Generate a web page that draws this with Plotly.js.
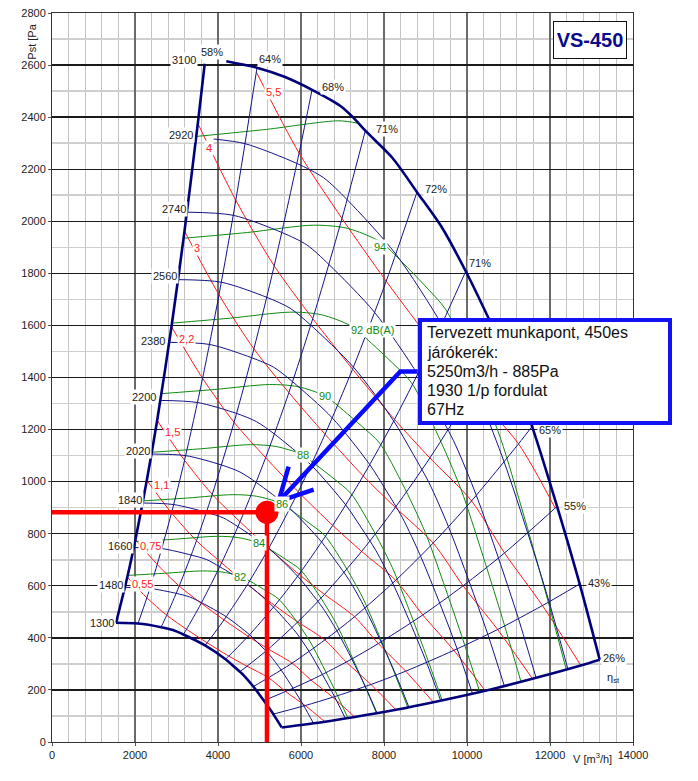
<!DOCTYPE html>
<html><head><meta charset="utf-8">
<script src="https://cdn.plot.ly/plotly-3.0.1.min.js"></script>
<style>html,body{margin:0;padding:0;background:#fff}#chart{width:698px;height:781px}</style>
</head><body><div id="chart"></div>
<script>
// ---------- speed curves (rpm) ----------
const rpm3100V = [4200,4940,5600,6266,6950,7250,7550,8200,8795,9400,9970,10483,11000,11568,12170,12715,13197];
const rpm3100P = [2615,2590,2555,2505,2443,2400,2348,2244,2112,1975,1808,1640,1460,1212,905,607,316];
const rpm2920V = [3895,4653,5902,6546,7112,8284,9391,9874,10361,10896,11463,11977,12431];
const rpm2920P = [2316,2298,2222,2167,2083,1874,1604,1455,1295,1075,803,539,280];
const rpm2740V = [3253,4366,5538,6143,6673,7774,8812,9266,9723,10225,10757,11239,11664];
const rpm2740P = [2035,2023,1957,1909,1834,1650,1412,1281,1141,947,707,474,247];
const rpm2560V = [3039,4080,5175,5739,6235,7263,8233,8657,9084,9553,10050,10500,10898];
const rpm2560P = [1776,1766,1708,1666,1601,1440,1233,1118,996,827,617,414,216];
const rpm2380V = [2825,3793,4811,5336,5796,6752,7654,8048,8445,8881,9343,9762,10132];
const rpm2380P = [1535,1527,1476,1440,1384,1245,1066,967,861,714,533,358,186];
const rpm2200V = [2612,3506,4447,4932,5358,6242,7075,7440,7806,8210,8637,9024,9366];
const rpm2200P = [1312,1304,1262,1230,1183,1064,911,826,735,610,456,306,159];
const rpm2020V = [2398,3219,4083,4529,4920,5731,6497,6831,7168,7538,7930,8286,8599];
const rpm2020P = [1106,1100,1064,1037,997,897,768,696,620,515,384,258,134];
const rpm1840V = [2184,2932,3719,4125,4481,5220,5918,6222,6529,6866,7223,7547,7833];
const rpm1840P = [918,912,882,861,827,744,637,578,514,427,319,214,111];
const rpm1660V = [1971,2645,3355,3722,4043,4710,5339,5613,5890,6194,6517,6809,7067];
const rpm1660P = [747,743,718,701,673,606,518,470,419,348,259,174,91];
const rpm1480V = [1757,2358,2992,3318,3605,4199,4760,5005,5252,5523,5810,6071,6300];
const rpm1480P = [594,590,571,557,535,481,412,374,333,276,206,138,72];
const rpm1300V = [1543,2072,2628,2914,3166,3688,4181,4396,4613,4851,5103,5332,5534];
const rpm1300P = [458,455,441,430,413,371,318,288,257,213,159,107,56];

// ---------- efficiency lines ----------
const eff58V = [1543,1814,2011,2285,2534,2879,3193,3514,3680];
const eff58P = [458,633,778,1005,1235,1595,1962,2376,2605];
const eff64V = [2072,2286,2535,2880,3194,3629,4024,4429,4940];
const eff64P = [455,554,682,880,1082,1397,1718,2081,2590];
const eff68V = [2628,2764,3065,3482,3861,4387,4865,5354,5954,6266];
const eff68P = [441,487,599,773,951,1228,1510,1829,2262,2505];
const eff71aV = [3166,3243,3596,4086,4531,5148,5708,6283,6987,7550];
const eff71aP = [413,433,533,688,846,1092,1342,1626,2011,2348];
const eff72V = [3688,3738,4145,4709,5222,5933,6579,7242,8053,8795];
const eff72P = [371,381,469,605,744,961,1182,1432,1770,2112];
const eff71bV = [4181,4260,4725,5368,5952,6763,7499,8254,9179,9970];
const eff71bP = [318,330,406,524,644,832,1022,1239,1532,1808];
const eff69V = [4526,4699,5212,5921,6566,7460,8272,9105,10125,10791];
const eff69P = [270,291,357,461,567,732,901,1091,1349,1533];
const eff65V = [4851,5217,5786,6574,7290,8282,9184,10109,11241,11568];
const eff65P = [213,247,303,392,481,621,764,926,1145,1212];
const eff55V = [5103,5628,6241,7091,7863,8934,9906,10904,12170];
const eff55P = [159,194,238,307,378,488,600,726,905];
const eff43V = [5332,6100,6765,7685,8522,9683,10737,11818,12715];
const eff43P = [107,140,172,221,272,352,432,524,607];
const eff26V = [5534,6576,7293,8286,9189,10440,11576,12742,13197];
const eff26P = [56,78,96,124,153,197,243,294,316];

// ---------- shaft power lines (kW) ----------
const kw055V = [1814,2286,2764,3243,3738,4260,4699,5217,5628,6100,6576];
const kw055P = [633,554,487,433,381,330,291,247,194,140,78];
const kw075V = [2011,2535,3065,3596,4145,4725,5212,5786,6241,6765,7293];
const kw075P = [778,682,599,533,469,406,357,303,238,172,96];
const kw110V = [2285,2880,3482,4086,4709,5368,5921,6574,7091,7685,8286];
const kw110P = [1005,880,773,688,605,524,461,392,307,221,124];
const kw150V = [2534,3194,3861,4531,5222,5952,6566,7290,7863,8522,9189];
const kw150P = [1235,1082,951,846,744,644,567,481,378,272,153];
const kw220V = [2879,3629,4387,5148,5933,6763,7460,8282,8934,9683,10440];
const kw220P = [1595,1397,1228,1092,961,832,732,621,488,352,197];
const kw300V = [3193,4024,4865,5708,6579,7499,8272,9184,9906,10737,11576];
const kw300P = [1962,1718,1510,1342,1182,1022,901,764,600,432,243];
const kw400V = [3514,4429,5354,6283,7242,8254,9105,10109,10904,11818,12742];
const kw400P = [2376,2081,1829,1626,1432,1239,1091,926,726,524,294];
const kw550V = [4925,5954,6987,8053,9179,10125,11241,12125];
const kw550P = [2573,2262,2011,1770,1532,1349,1145,898];

// ---------- sound level lines dB(A) ----------
const db96V = [3484,5167,6908,7400];
const db96P = [2326,2353,2386,2376];
const db94V = [3177,4712,6301,7119,7910,8438,8965,9492,10152,10811,11338,11866,12393];
const db94P = [1935,1957,1985,1973,1921,1843,1756,1660,1434,1165,887,591,278];
const db92V = [2898,4297,5746,6492,7214,7695,8176,8657,9258,9859,10340,10821,11302];
const db92P = [1609,1628,1651,1641,1597,1532,1460,1381,1193,969,737,492,231];
const db90V = [2643,3919,5240,5921,6579,7018,7456,7895,8443,8991,9430,9869,10307];
const db90P = [1338,1354,1373,1365,1329,1274,1214,1148,992,806,613,409,192];
const db88V = [2410,3574,4779,5400,6000,6400,6800,7200,7700,8200,8600,9000,9400];
const db88P = [1113,1126,1142,1135,1105,1060,1010,955,825,670,510,340,160];
const db86V = [2198,3259,4358,4925,5472,5837,6202,6566,7022,7478,7843,8208,8573];
const db86P = [926,937,950,944,919,882,840,794,686,557,424,283,133];
const db84V = [2004,2973,3975,4491,4990,5323,5656,5988,6404,6820,7153,7486,7818];
const db84P = [770,779,790,785,764,733,699,661,571,463,353,235,111];
const db82V = [1828,2711,3625,4096,4551,4854,5158,5461,5841,6220,6523,6827,7130];
const db82P = [640,648,657,653,636,610,581,549,475,385,293,196,92];

// ---------- operating point & callout arrow ----------
const opV = [5180];
const opP = [882];
const arrowV = [8811,8394,5461,null,5702,5461,6305];
const arrowP = [1423,1423,924,null,1058,924,969];

// ---------- labels ----------
const effLabText = ['58%','64%','68%','71%','72%','71%','65%','55%','43%','26%'];
const effLabV = [3863,5244,6772,8073,9262,10322,12009,12611,13173,13551];
const effLabP = [2652,2624,2515,2355,2124,1839,1198,905,611,323];
const rpmLabText = ['3100','2920','2740','2560','2380','2200','2020','1840','1660','1480','1300'];
const rpmLabV = [3188,3109,2931,2714,2425,2224,2063,1870,1646,1422,1205];
const rpmLabP = [2620,2332,2048,1791,1541,1327,1117,928,751,603,457];
const kwLabText = ['5,5','4','3','2,2','1,5','1,1','0,75','0,55'];
const kwLabV = [5341,3774,3494,3229,2907,2634,2369,2169];
const kwLabP = [2498,2283,1897,1547,1189,988,751,607];
const dbLabText = ['82','84','86','88','90','92 dB(A)','94'];
const dbLabV = [4521,4979,5543,6049,6587,7712,7912];
const dbLabP = [634,764,914,1103,1330,1581,1903];
const calloutLines = ['Tervezett munkapont, 450es','járókerék:','5250m3/h - 885Pa','1930 1/p fordulat','67Hz'];
const calloutLineY = [332.3,352.7,371.7,391,410];

const FONT = 'Liberation Sans, Arial, Helvetica, sans-serif';
const NAVY = '#141488', THICK = '#00007a', RED = '#ff1a1a', GREEN = '#108a10';
const traces = [];
function addLine(V, P, color, width, shape) {
  traces.push({x: V, y: P, type: 'scatter', mode: 'lines', hoverinfo: 'skip', showlegend: false,
    line: {color: color, width: width, shape: shape || 'spline', smoothing: 0.8}});
}
[[kw055V,kw055P],[kw075V,kw075P],[kw110V,kw110P],[kw150V,kw150P],[kw220V,kw220P],[kw300V,kw300P],[kw400V,kw400P],[kw550V,kw550P]]
  .forEach(a => addLine(a[0], a[1], RED, 1));
[[db96V,db96P],[db94V,db94P],[db92V,db92P],[db90V,db90P],[db88V,db88P],[db86V,db86P],[db84V,db84P],[db82V,db82P]]
  .forEach(a => addLine(a[0], a[1], GREEN, 1));
[[rpm2920V,rpm2920P],[rpm2740V,rpm2740P],[rpm2560V,rpm2560P],[rpm2380V,rpm2380P],[rpm2200V,rpm2200P],
 [rpm2020V,rpm2020P],[rpm1840V,rpm1840P],[rpm1660V,rpm1660P],[rpm1480V,rpm1480P]]
  .forEach(a => addLine(a[0], a[1], NAVY, 1));
[[eff64V,eff64P],[eff68V,eff68P],[eff71aV,eff71aP],[eff72V,eff72P],[eff71bV,eff71bP],[eff69V,eff69P],
 [eff65V,eff65P],[eff55V,eff55P],[eff43V,eff43P]]
  .forEach(a => addLine(a[0], a[1], NAVY, 1));
addLine(rpm3100V, rpm3100P, THICK, 2.6);
addLine(rpm1300V, rpm1300P, THICK, 2.6);
addLine(eff58V, eff58P, THICK, 2.6);
addLine(eff26V, eff26P, THICK, 2.6);
// operating point
traces.push({x: [0, opV[0], opV[0]], y: [opP[0], opP[0], 0], type: 'scatter', mode: 'lines', hoverinfo: 'skip',
  showlegend: false, line: {color: '#ff0000', width: 4.5}});
traces.push({x: opV, y: opP, type: 'scatter', mode: 'markers', hoverinfo: 'skip', showlegend: false,
  marker: {color: '#ff0000', size: 23}});
traces.push({x: arrowV, y: arrowP, type: 'scatter', mode: 'lines', hoverinfo: 'skip', showlegend: false,
  connectgaps: false, line: {color: '#0a0aff', width: 4.5}});

const ann = [];
function lab(t, V, P, color) {
  ann.push({x: V, y: P, xref: 'x', yref: 'y', text: t, showarrow: false, font: {family: FONT, size: 11, color: color},
    bgcolor: '#ffffff', borderpad: 1, xanchor: 'center', yanchor: 'middle'});
}
effLabText.forEach((t, i) => lab(t, effLabV[i], effLabP[i], '#222'));
rpmLabText.forEach((t, i) => lab(t, rpmLabV[i], rpmLabP[i], '#222'));
kwLabText.forEach((t, i) => lab(t, kwLabV[i], kwLabP[i], '#ff1a1a'));
dbLabText.forEach((t, i) => lab(t, dbLabV[i], dbLabP[i], GREEN));
ann.push({x: 13520, y: 246, xref: 'x', yref: 'y', text: 'η<sub>st</sub>', showarrow: false,
  xanchor: 'center', yanchor: 'middle', font: {family: FONT, size: 11, color: '#222'}});
ann.push({x: 13035, y: -0.022, xref: 'x', yref: 'paper', text: 'V [m<sup>3</sup>/h]', showarrow: false,
  font: {family: FONT, size: 11, color: '#222'}, xanchor: 'center', yanchor: 'middle'});
ann.push({x: -0.034, y: 0.961, xref: 'paper', yref: 'paper', text: 'Pst [Pa', textangle: -90, showarrow: false,
  xanchor: 'center', yanchor: 'middle', font: {family: FONT, size: 11, color: '#222'}});
ann.push({x: 0.9268, y: 0.9623, xref: 'paper', yref: 'paper', text: '<b>VS-450</b>', showarrow: false,
  xanchor: 'center', yanchor: 'middle',
  font: {family: FONT, size: 20, color: '#0a0a8c'}, bgcolor: '#fff', bordercolor: '#111', borderwidth: 1,
  borderpad: 3, width: 66, height: 30});
ann.push({x: 0.8485, y: 0.5082, xref: 'paper', yref: 'paper', text: ' ', showarrow: false,
  xanchor: 'center', yanchor: 'middle',
  bgcolor: '#fff', bordercolor: '#1212f5', borderwidth: 4, borderpad: 0, width: 246, height: 99});
calloutLines.forEach((t, i) => ann.push({x: (425 - 51.7) / 580.8, y: (742.3 - calloutLineY[i]) / 729.3,
  xref: 'paper', yref: 'paper', xanchor: 'left', yanchor: 'middle', text: t, showarrow: false,
  font: {family: FONT, size: 16, color: '#111'}}));

const layout = {
  width: 698, height: 781, margin: {l: 52, r: 65, t: 13, b: 39},
  paper_bgcolor: '#fff', plot_bgcolor: '#fff', showlegend: false, hovermode: false,
  font: {family: FONT, size: 11, color: '#222'},
  xaxis: {range: [0, 14000], dtick: 2000, tick0: 0, tickformat: 'd', showgrid: true, gridcolor: '#6a6a6a', gridwidth: 1.5,
    zeroline: false, showline: true, linecolor: '#333', linewidth: 1, mirror: true,
    ticks: 'outside', ticklen: 3, tickcolor: '#555', tickfont: {size: 11, color: '#222'},
    minor: {dtick: 400, showgrid: true, gridcolor: '#c4c4c4', gridwidth: 1}},
  yaxis: {range: [0, 2800], dtick: 200, tick0: 0, tickformat: 'd', showgrid: true, gridcolor: '#1a1a1a', gridwidth: 1.3,
    zeroline: false, showline: true, linecolor: '#333', linewidth: 1, mirror: true,
    ticks: 'outside', ticklen: 3, tickcolor: '#555', tickfont: {size: 11, color: '#222'},
    minor: {dtick: 100, showgrid: true, gridcolor: '#cfcfcf', gridwidth: 1.6}},
  annotations: ann
};
Plotly.newPlot('chart', traces, layout, {displayModeBar: false, staticPlot: true});
</script>
</body></html>
